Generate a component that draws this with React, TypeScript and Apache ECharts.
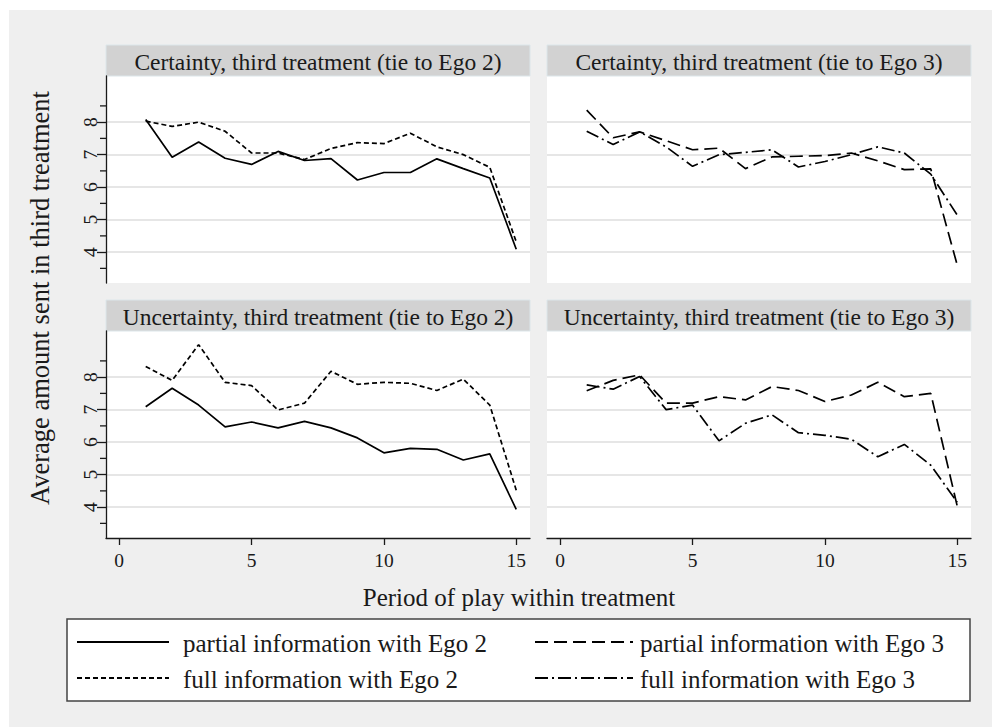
import React, { useEffect, useRef } from "react";
import * as echarts from "echarts";

// ---------- data ----------
const periods = [1, 2, 3, 4, 5, 6, 7, 8, 9, 10, 11, 12, 13, 14, 15];

const certEgo2Partial = [8.08, 6.92, 7.39, 6.89, 6.7, 7.1, 6.82, 6.88, 6.22, 6.45, 6.45, 6.87, 6.57, 6.28, 4.09];
const certEgo2Full = [8.03, 7.87, 8.0, 7.72, 7.05, 7.05, 6.85, 7.19, 7.37, 7.34, 7.66, 7.24, 7.0, 6.61, 4.32];
const certEgo3Partial = [8.37, 7.52, 7.7, 7.43, 7.15, 7.2, 6.57, 6.93, 6.95, 6.97, 7.05, 6.81, 6.54, 6.56, 3.6];
const certEgo3Full = [7.72, 7.31, 7.7, 7.24, 6.64, 7.0, 7.07, 7.15, 6.62, 6.79, 7.0, 7.24, 7.05, 6.4, 5.14];

const uncEgo2Partial = [7.09, 7.66, 7.14, 6.47, 6.62, 6.44, 6.64, 6.44, 6.13, 5.67, 5.81, 5.78, 5.45, 5.64, 3.93];
const uncEgo2Full = [8.33, 7.9, 9.0, 7.84, 7.74, 6.99, 7.2, 8.18, 7.78, 7.84, 7.81, 7.59, 7.94, 7.14, 4.52];
const uncEgo3Partial = [7.58, 7.9, 8.07, 7.2, 7.2, 7.4, 7.3, 7.71, 7.59, 7.25, 7.45, 7.84, 7.4, 7.5, 4.03];
const uncEgo3Full = [7.76, 7.63, 8.02, 7.0, 7.14, 6.04, 6.58, 6.84, 6.29, 6.21, 6.09, 5.55, 5.93, 5.29, 4.15];

const yMajorTicks = [4, 5, 6, 7, 8];
const yMinorTicks = [3.5, 4.5, 5.5, 6.5, 7.5, 8.5];
const xTicks = [0, 5, 10, 15];

const panelTitles = [
  "Certainty, third treatment (tie to Ego 2)",
  "Certainty, third treatment (tie to Ego 3)",
  "Uncertainty, third treatment (tie to Ego 2)",
  "Uncertainty, third treatment (tie to Ego 3)",
];
const legendLabels = [
  "partial information with Ego 2",
  "full information with Ego 2",
  "partial information with Ego 3",
  "full information with Ego 3",
];
const yTitle = "Average amount sent in third treatment";
const xTitle = "Period of play within treatment";

const FONT = "Liberation Serif";

const DASH_SOLID: any = "solid";
const DASH_SHORT = [5, 3];
const DASH_LONG = [13, 6];
const DASH_DOT = [13, 4, 2, 4];

export default function App() {
  const ref = useRef<HTMLDivElement>(null);

  useEffect(() => {
    if (!ref.current) return;
    const chart = echarts.init(ref.current, null, { renderer: "svg" });

    const gridPos = [
      { left: 106, top: 76 },
      { left: 547, top: 76 },
      { left: 106, top: 331 },
      { left: 547, top: 331 },
    ];
    const PW = 424;
    const PH = 207;
    const HH = 31;
    const YMIN = 3.05;
    const YMAX = 9.42;

    const grid = gridPos.map((g) => ({
      left: g.left,
      top: g.top,
      width: PW,
      height: PH,
      show: true,
      backgroundColor: "#ffffff",
      borderWidth: 0,
      containLabel: false,
      outerBoundsMode: "none",
    }));

    const xAxis = gridPos.map((_, i) => {
      const bottom = i >= 2;
      return {
        type: "value",
        gridIndex: i,
        position: "bottom",
        min: -0.5,
        max: 15.52,
        show: bottom,
        axisLine: { show: bottom, onZero: false, lineStyle: { color: "#1a1a1a", width: 1.3 } },
        axisTick: {
          show: bottom,
          inside: false,
          length: 7,
          customValues: xTicks,
          lineStyle: { color: "#1a1a1a", width: 1.3 },
        },
        axisLabel: {
          show: bottom,
          customValues: xTicks,
          fontSize: 19.5,
          color: "#1a1a1a",
          margin: 12,
          fontFamily: FONT,
        },
        splitLine: { show: false },
      };
    });

    const yAxis: any[] = gridPos.map((_, i) => {
      const left = i % 2 === 0;
      return {
        type: "value",
        gridIndex: i,
        position: "left",
        offset: 0,
        min: YMIN,
        max: YMAX,
        axisLine: { show: left, onZero: false, lineStyle: { color: "#1a1a1a", width: 1.3 } },
        axisTick: {
          show: left,
          inside: false,
          length: 9,
          customValues: yMajorTicks,
          lineStyle: { color: "#1a1a1a", width: 1.3 },
        },
        axisLabel: {
          show: left,
          customValues: yMajorTicks,
          rotate: 90,
          fontSize: 19.5,
          color: "#1a1a1a",
          margin: 6,
          fontFamily: FONT,
        },
        splitLine: { show: true, lineStyle: { color: "#e6e6e6", width: 1.8 } },
      };
    });

    const mk = (name: string, gi: number, arr: number[], type: any) => ({
      name,
      type: "line",
      xAxisIndex: gi,
      yAxisIndex: gi,
      data: periods.map((p, k) => [p, arr[k]]),
      symbol: "none",
      showSymbol: false,
      silent: true,
      lineStyle: { color: "#000000", width: 1.7, type },
      emphasis: { disabled: true },
    });

    const series: any[] = [
      mk(legendLabels[0], 0, certEgo2Partial, DASH_SOLID),
      mk(legendLabels[1], 0, certEgo2Full, DASH_SHORT),
      mk(legendLabels[2], 1, certEgo3Partial, DASH_LONG),
      mk(legendLabels[3], 1, certEgo3Full, DASH_DOT),
      mk(legendLabels[0], 2, uncEgo2Partial, DASH_SOLID),
      mk(legendLabels[1], 2, uncEgo2Full, DASH_SHORT),
      mk(legendLabels[2], 3, uncEgo3Partial, DASH_LONG),
      mk(legendLabels[3], 3, uncEgo3Full, DASH_DOT),
    ];

    const graphic: any[] = [];
    gridPos.forEach((g, i) => {
      graphic.push({
        type: "rect",
        shape: { x: g.left, y: g.top - HH, width: PW, height: HH },
        style: { fill: "#d2d2d2", stroke: "#dce6ea", lineWidth: 1 },
        silent: true,
      });
      graphic.push({
        type: "text",
        x: g.left + PW / 2,
        y: g.top - HH / 2 + 1,
        style: {
          text: panelTitles[i],
          fontSize: 23.5,
          fontFamily: FONT,
          fill: "#1a1a1a",
          align: "center",
          verticalAlign: "middle",
        },
        silent: true,
      });
    });

    graphic.push({
      type: "text",
      x: 40,
      y: 298,
      rotation: Math.PI / 2,
      style: {
        text: yTitle,
        fontSize: 26.5,
        fontFamily: FONT,
        fill: "#1a1a1a",
        align: "center",
        verticalAlign: "middle",
      },
      silent: true,
    });
    graphic.push({
      type: "text",
      x: 519,
      y: 597,
      style: {
        text: xTitle,
        fontSize: 25,
        fontFamily: FONT,
        fill: "#1a1a1a",
        align: "center",
        verticalAlign: "middle",
      },
      silent: true,
    });

    // legend
    graphic.push({
      type: "rect",
      shape: { x: 67, y: 619, width: 903, height: 82 },
      style: { fill: "#ffffff", stroke: "#444444", lineWidth: 1.5 },
      silent: true,
    });
    const legendItems = [
      { x1: 77, x2: 169, tx: 183, y: 642, dash: null },
      { x1: 77, x2: 169, tx: 183, y: 678, dash: DASH_SHORT },
      { x1: 535, x2: 633, tx: 640, y: 642, dash: DASH_LONG },
      { x1: 535, x2: 633, tx: 640, y: 678, dash: DASH_DOT },
    ];
    legendItems.forEach((it, i) => {
      graphic.push({
        type: "line",
        shape: { x1: it.x1, y1: it.y, x2: it.x2, y2: it.y },
        style: { stroke: "#000000", lineWidth: 1.8, lineDash: it.dash || undefined },
        silent: true,
      });
      graphic.push({
        type: "text",
        x: it.tx,
        y: it.y + 1,
        style: {
          text: legendLabels[i],
          fontSize: 25,
          fontFamily: FONT,
          fill: "#1a1a1a",
          align: "left",
          verticalAlign: "middle",
        },
        silent: true,
      });
    });

    chart.setOption({
      animation: false,
      textStyle: { fontFamily: FONT },
      grid,
      xAxis,
      yAxis,
      series,
      graphic,
    } as any);

    // minor y ticks on the left panels, positioned through the axis scale
    const minorTicks: any[] = [];
    [0, 2].forEach((gi) => {
      yMinorTicks.forEach((v) => {
        const p = chart.convertToPixel({ xAxisIndex: gi, yAxisIndex: gi } as any, [-0.5, v]) as number[];
        if (!p) return;
        minorTicks.push({
          type: "line",
          shape: { x1: p[0] - 6, y1: p[1], x2: p[0], y2: p[1] },
          style: { stroke: "#1a1a1a", lineWidth: 1.3 },
          silent: true,
          z: 100,
        });
      });
    });
    chart.setOption({ graphic: graphic.concat(minorTicks) } as any);

    return () => chart.dispose();
  }, []);

  return (
    <div
      style={{
        position: "absolute",
        left: 0,
        top: 0,
        width: 992,
        height: 727,
        background: "#ffffff",
        overflow: "hidden",
      }}
    >
      <div
        style={{
          position: "absolute",
          left: 9,
          top: 10,
          width: 983,
          height: 717,
          background: "#efefef",
        }}
      />
      <div ref={ref} style={{ position: "absolute", left: 0, top: 0, width: 992, height: 727 }} />
    </div>
  );
}
